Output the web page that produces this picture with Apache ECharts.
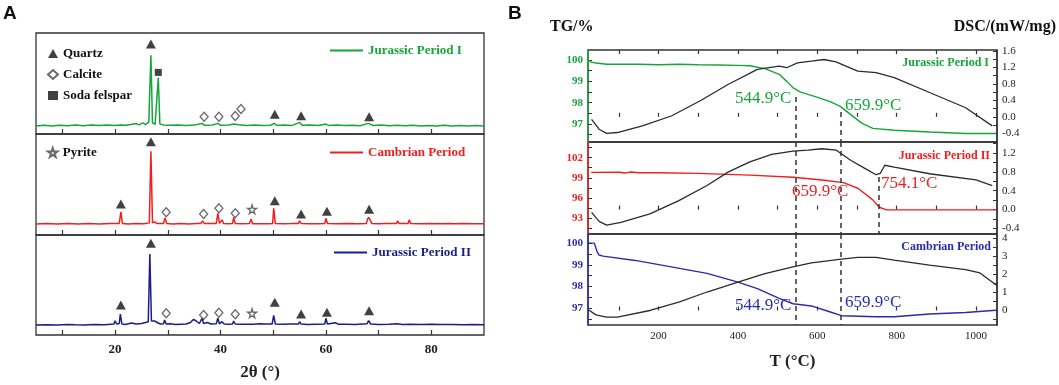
<!DOCTYPE html>
<html>
<head>
<meta charset="utf-8">
<script src="https://cdn.jsdelivr.net/npm/echarts@6/dist/echarts.min.js"></script>
<style>
  html, body { margin: 0; padding: 0; background: #fff; }
  #chart { width: 1059px; height: 385px; }
</style>
</head>
<body>
<div id="chart"></div>
<script>
// ---- panel A: XRD patterns, [2theta, relative intensity %] ----
const xrdJurassic1 = [[5,8],[6.5,8.6],[8,8],[9.5,8.7],[11,8.1],[12.5,8.8],[14,8.2],[15.5,8.9],[17,8.3],[18.5,9],[20,8.5],[21,9],[22,8.6],[23,9.5],[24,10.5],[24.5,9],[25.3,11],[25.8,9.2],[26.4,12],[26.8,78],[27.1,11],[27.6,9.5],[27.9,11],[28.2,56],[28.5,10],[29.2,9],[30.5,8.6],[32,9],[33.5,8.5],[35,8.8],[36.5,10.5],[37,8.6],[38.5,8.9],[39.5,10.5],[40,8.7],[41.5,8.9],[42.5,10],[43.5,9.2],[45,8.5],[46.5,9],[48,8.4],[49.5,8.7],[50.2,10.5],[50.7,8.5],[52,8.8],[53.5,8.3],[55,11.5],[55.5,8.6],[57,8.9],[58.5,8.4],[60,9.8],[60.5,8.5],[62,8.9],[63.5,8.3],[65,8.7],[66.5,8.2],[68,10.5],[68.5,9.5],[69,8.4],[70.5,8.8],[72,8.2],[73.5,8.7],[75,8.1],[76.5,8.6],[78,8],[79.5,8.5],[81,8],[82.5,8.6],[84,8],[85.5,8.5],[87,8],[88.5,8.4],[90,8]];
const xrdCambrian = [[5,11],[7,11.3],[9,11],[11,11.4],[13,11],[15,11.3],[17,11],[19,11.4],[20.8,11.5],[21.1,23],[21.4,11.3],[22.5,11],[24,11.5],[25.5,11.2],[26.5,12],[26.8,83],[27.1,12],[27.5,13],[27.9,11.5],[29.2,11.5],[29.5,17],[29.8,11.3],[31,11],[32.5,11.3],[34,11],[35.5,11.4],[36.3,11.5],[36.6,14],[36.9,11.5],[38,11.3],[39.2,11.5],[39.5,21.5],[39.8,11.5],[40.3,15],[40.6,11.4],[41.5,11.1],[42.3,11.5],[42.5,17.5],[42.8,11.4],[44,11.2],[45.5,11.3],[45.8,15.5],[46.1,11.2],[47.3,11.2],[47.6,13],[48.3,11.2],[48.6,13],[49.2,11.2],[49.9,11.5],[50.1,26.4],[50.4,11.4],[52,11.1],[53.5,11.3],[54.8,11.5],[55,14],[55.3,11.4],[57,11.2],[58.5,11.1],[59.8,11.5],[60,16.5],[60.3,11.4],[62,11.2],[64,11.4],[66,11.1],[67.7,11.5],[67.9,15.5],[68.1,17.5],[68.4,15],[68.7,11.5],[70,11.2],[71.5,11.4],[73.4,11.3],[73.6,14],[73.9,11.3],[75.6,11.3],[75.8,15],[76.1,11.3],[78,11.2],[79.8,11.3],[80.1,13],[80.4,11.2],[81.3,11.3],[81.5,13],[81.8,11.2],[83.7,11.3],[84,13],[84.3,11.2],[86,11.3],[88,11.1],[90,11.2]];
const xrdJurassic2 = [[5,10],[7,10.3],[9,10],[11,10.5],[12.5,10.2],[14,10],[16,10.4],[18,10.2],[19.8,11],[20,14.3],[20.3,11],[20.8,11.5],[21,21],[21.3,11],[22,10.5],[23.1,12],[24,11],[25,11.5],[25.8,12.5],[26.3,13.3],[26.6,81],[26.9,14],[27.5,14],[28,12.5],[28.6,11],[29.2,11.2],[29.4,15],[29.7,11],[30.5,11.2],[31.5,10.6],[32.5,10.8],[33.5,11],[34.3,12.5],[34.9,15.7],[35.4,14],[36,11.5],[36.5,16.7],[36.8,11.5],[37.5,12.5],[38.2,11],[39.2,11.2],[39.5,16.7],[39.8,11.2],[40.3,13.3],[40.7,11],[41.5,10.8],[42.3,11],[42.5,14],[42.8,11],[44,10.7],[45.6,10.8],[45.8,12.3],[46.1,10.7],[47.5,11.2],[48.5,11],[49.8,11],[50.1,19.7],[50.4,11],[51.8,10.7],[53,10.9],[54.8,11],[55,13.3],[55.3,10.9],[56.5,10.6],[58,10.8],[59.8,11],[60,16.7],[60.3,11],[61.8,12.3],[62.4,10.7],[64,10.8],[65.5,10.6],[67.8,11.2],[68.1,14.3],[68.5,11],[70,10.5],[72,10.7],[73.5,11.3],[74.5,10.5],[76,10.7],[78,10.4],[80,10.8],[82,10.4],[84,10.6],[86,10.3],[88,10.5],[90,10.3]];

// phase markers [2theta, height %]
const quartzA1 = [[26.8,89],[50.3,19.5],[55.3,18],[68.2,17]];
const calciteA1 = [[36.9,17],[39.7,17],[42.8,17.8],[43.9,24.8]];
const felsparA1 = [[28.2,61]];
const quartzA2 = [[21.1,30.7],[26.8,92.4],[50.3,34],[55.3,20.8],[60.2,23.4],[68.2,25.4]];
const calciteA2 = [[29.7,22.5],[36.8,20.8],[39.7,26.4],[42.8,21.5]];
const pyriteA2 = [[46,25.4]];
const quartzA3 = [[21.1,30],[26.8,91.7],[50.3,32.7],[55.3,21],[60.2,22.7],[68.2,24.3]];
const calciteA3 = [[29.7,21.7],[36.8,20],[39.7,22.3],[42.8,20.7]];
const pyriteA3 = [[46,21.7]];
const twoThetaLabels = [20, 40, 60, 80];

// ---- panel B: TG (%) and DSC (mW/mg) vs T (°C) ----
const tgJurassic1 = [[23,100],[30,99.9],[42,99.86],[69,99.8],[150,99.8],[200,99.78],[250,99.8],[300,99.78],[350,99.77],[400,99.75],[430,99.73],[468,99.6],[504,99.33],[523,99.0],[539,98.7],[558,98.5],[593,98.3],[631,98.06],[658,97.83],[685,97.43],[713,97.03],[740,96.8],[794,96.71],[884,96.63],[973,96.56],[1050,96.56]];
const dscJurassic1 = [[31,-0.06],[50,-0.3],[69,-0.4],[96,-0.38],[159,-0.22],[232,0.02],[305,0.39],[376,0.79],[449,1.15],[504,1.23],[523,1.19],[550,1.31],[585,1.35],[617,1.39],[647,1.33],[702,1.11],[748,1.07],[794,0.95],[883,0.59],[974,0.22],[1041,-0.22]];
const tgJurassic2 = [[30,99.8],[100,99.82],[115,99.7],[130,99.85],[150,99.75],[200,99.75],[300,99.65],[430,99.4],[539,99.07],[612,98.67],[666,98.27],[702,97.43],[740,95.7],[756,94.6],[775,94.2],[1050,94.2]];
const dscJurassic2 = [[31,-0.06],[50,-0.25],[69,-0.33],[105,-0.27],[178,-0.09],[251,0.19],[322,0.51],[376,0.8],[430,1.01],[485,1.17],[539,1.24],[576,1.26],[612,1.29],[648,1.26],[685,1.04],[721,0.87],[748,0.74],[759,0.77],[770,0.94],[794,0.9],[883,0.76],[1000,0.63],[1041,0.51]];
const tgCambrian = [[23,100],[38,100],[45,99.6],[50,99.45],[60,99.4],[141,99.2],[232,98.9],[322,98.6],[400,98.2],[449,97.9],[504,97.45],[539,97.2],[585,97.1],[631,96.83],[661,96.65],[748,96.6],[794,96.6],[883,96.73],[974,96.8],[1050,96.9]];
const dscCambrian = [[23,0.04],[42,-0.24],[69,-0.37],[96,-0.37],[178,0],[251,0.46],[322,1.02],[400,1.57],[468,2.04],[539,2.41],[585,2.63],[661,2.83],[702,2.93],[748,2.93],[794,2.78],[883,2.5],[974,2.26],[1010,2.07],[1052,1.39]];
const tempLabels = [200, 400, 600, 800, 1000];
const tempTicks = [100, 200, 300, 400, 500, 600, 700, 800, 900, 1000];

const serif = "'Liberation Serif', 'Times New Roman', serif";
const green = '#16a53a', red = '#f01e1e', navy = '#1c1c8c', blue = '#2a2ab0', dark = '#333';

const chart = echarts.init(document.getElementById('chart'));

function xA(grid, labels) {
  return {
    type: 'value', gridIndex: grid, min: 5, max: 90,
    axisLine: { show: false }, splitLine: { show: false },
    axisTick: { inside: true, length: 5, lineStyle: { color: dark, width: 1.2 }, customValues: [10, 20, 30, 40, 50, 60, 70, 80] },
    axisLabel: labels ? { customValues: twoThetaLabels, fontFamily: serif, fontWeight: 'bold', fontSize: 13, color: '#222', margin: 8 } : { show: false },
    name: labels ? '2θ (°)' : '', nameLocation: 'middle', nameGap: 29,
    nameTextStyle: { fontFamily: serif, fontWeight: 'bold', fontSize: 17, color: '#222' },
  };
}
function xB(grid, pos, labels) {
  return {
    type: 'value', gridIndex: grid, min: 22, max: 1053, position: pos,
    axisLine: { show: false }, splitLine: { show: false },
    axisTick: { inside: true, length: 4, lineStyle: { color: dark, width: 1.2 }, customValues: tempTicks },
    axisLabel: labels ? { customValues: tempLabels, fontFamily: serif, fontSize: 11, color: '#222', margin: 6, formatter: (v) => String(v) } : { show: false },
    name: labels ? 'T (°C)' : '', nameLocation: 'middle', nameGap: 28,
    nameTextStyle: { fontFamily: serif, fontWeight: 'bold', fontSize: 17, color: '#222' },
  };
}
function yA(grid) {
  return { type: 'value', gridIndex: grid, min: 0, max: 100, show: false };
}
function yB(grid, pos, min, max, color, labels, ticks, fmt) {
  return {
    type: 'value', gridIndex: grid, position: pos, min: min, max: max,
    splitLine: { show: false },
    axisLine: { show: true, lineStyle: { color: color, width: 1.5 } },
    axisTick: { inside: true, length: 4, lineStyle: { color: dark, width: 1 }, customValues: ticks },
    axisLabel: { customValues: labels, fontFamily: serif, fontSize: 11, fontWeight: pos === 'left' ? 'bold' : 'normal',
      color: pos === 'left' ? color : '#222', margin: 5, formatter: fmt },
  };
}
const one = (v) => v.toFixed(1);
const whole = (v) => String(Math.round(v));

function xrdLine(name, data, color, idx) {
  return { name: name, type: 'line', xAxisIndex: idx, yAxisIndex: idx, data: data, symbol: 'none',
    lineStyle: { color: color, width: 1.5 }, itemStyle: { color: color } };
}
function marker(name, data, idx, symbol, size, filled) {
  return { name: name, type: 'scatter', xAxisIndex: idx, yAxisIndex: idx, data: data, symbol: symbol, symbolSize: size,
    itemStyle: filled ? { color: '#111' } : { color: '#fff', borderColor: '#444', borderWidth: 1.3 }, z: 5 };
}
const star = 'path://M50,0 L61,35 L98,35 L68,57 L79,91 L50,70 L21,91 L32,57 L2,35 L39,35 Z';

function dashed(pairs) {
  return { symbol: 'none', silent: true, label: { show: false },
    lineStyle: { type: [5, 4], color: dark, width: 1.5 },
    data: pairs.map((p) => [{ coord: [p[0], p[1]] }, { coord: [p[0], p[2]] }]) };
}
function tgLine(name, data, color, xi, yi, marks) {
  return { name: name, type: 'line', xAxisIndex: xi, yAxisIndex: yi, data: data, symbol: 'none',
    lineStyle: { color: color, width: 1.4 }, itemStyle: { color: color }, markLine: marks ? dashed(marks) : undefined };
}
function dscLine(name, data, xi, yi) {
  return { name: name, type: 'line', xAxisIndex: xi, yAxisIndex: yi, data: data, symbol: 'none',
    lineStyle: { color: '#2b2b2b', width: 1.3 }, itemStyle: { color: '#2b2b2b' } };
}

const gridStyle = { show: true, borderColor: dark, borderWidth: 1.3, backgroundColor: 'transparent' };
const legendText = { fontFamily: serif, fontWeight: 'bold', fontSize: 13, color: '#111' };
const lineLegend = { icon: 'rect', itemWidth: 33, itemHeight: 2, itemGap: 2, textStyle: legendText, selectedMode: false };

const option = {
  animation: false,
  backgroundColor: '#fff',
  grid: [
    Object.assign({ left: 36, top: 33, width: 448, height: 101 }, gridStyle),
    Object.assign({ left: 36, top: 134, width: 448, height: 101 }, gridStyle),
    Object.assign({ left: 36, top: 235, width: 448, height: 100 }, gridStyle),
    Object.assign({ left: 588, top: 50, width: 409, height: 92 }, gridStyle),
    Object.assign({ left: 588, top: 142, width: 409, height: 92 }, gridStyle),
    Object.assign({ left: 588, top: 234, width: 409, height: 91 }, gridStyle),
  ],
  xAxis: [
    xA(0, false), xA(1, false), xA(2, true),
    xB(3, 'bottom', false), xB(3, 'top', false), xB(4, 'bottom', false), xB(5, 'bottom', true),
  ],
  yAxis: [
    yA(0), yA(1), yA(2),
    yB(3, 'left', 96.16, 100.47, green, [97, 98, 99, 100], [96.5, 97, 97.5, 98, 98.5, 99, 99.5, 100], whole),
    yB(3, 'right', -0.61, 1.62, dark, [-0.4, 0, 0.4, 0.8, 1.2, 1.6], [-0.6, -0.4, -0.2, 0, 0.2, 0.4, 0.6, 0.8, 1, 1.2, 1.4, 1.6], one),
    yB(4, 'left', 90.6, 104.34, red, [93, 96, 99, 102], [91.5, 93, 94.5, 96, 97.5, 99, 100.5, 102, 103.5], whole),
    yB(4, 'right', -0.517, 1.433, dark, [-0.4, 0, 0.4, 0.8, 1.2], [-0.4, -0.2, 0, 0.2, 0.4, 0.6, 0.8, 1, 1.2, 1.4], one),
    yB(5, 'left', 96.22, 100.42, blue, [97, 98, 99, 100], [96.5, 97, 97.5, 98, 98.5, 99, 99.5, 100], whole),
    yB(5, 'right', -0.8, 4.22, dark, [0, 1, 2, 3, 4], [-0.5, 0, 0.5, 1, 1.5, 2, 2.5, 3, 3.5, 4], whole),
  ],
  legend: [
    { data: ['Quartz', 'Calcite', 'Soda felspar'], orient: 'vertical', left: 42, top: 42, itemGap: 8,
      itemWidth: 10, itemHeight: 9, textStyle: legendText, selectedMode: false },
    { data: ['Pyrite'], orient: 'vertical', left: 42, top: 141, itemWidth: 10, itemHeight: 9,
      textStyle: legendText, selectedMode: false },
    Object.assign({ data: [{ name: 'Jurassic Period I', textStyle: { color: green } }], left: 325, top: 39 }, lineLegend),
    Object.assign({ data: [{ name: 'Cambrian Period', textStyle: { color: red } }], left: 325, top: 141 }, lineLegend),
    Object.assign({ data: [{ name: 'Jurassic Period II', textStyle: { color: navy } }], left: 329, top: 241 }, lineLegend),
  ],
  series: [
    xrdLine('Jurassic Period I', xrdJurassic1, green, 0),
    xrdLine('Cambrian Period', xrdCambrian, red, 1),
    xrdLine('Jurassic Period II', xrdJurassic2, navy, 2),
    marker('Quartz', quartzA1, 0, 'triangle', [10, 9], true),
    marker('Calcite', calciteA1, 0, 'diamond', [8, 9], false),
    marker('Soda felspar', felsparA1, 0, 'rect', 7, true),
    marker('Quartz', quartzA2, 1, 'triangle', [10, 9], true),
    marker('Calcite', calciteA2, 1, 'diamond', [8, 9], false),
    marker('Pyrite', pyriteA2, 1, star, 9, false),
    marker('Quartz', quartzA3, 2, 'triangle', [10, 9], true),
    marker('Calcite', calciteA3, 2, 'diamond', [8, 9], false),
    marker('Pyrite', pyriteA3, 2, star, 9, false),

    tgLine('TG Jurassic Period I', tgJurassic1, green, 3, 3, [[544.9, 98.27, 96.16], [659.9, 97.56, 96.16]]),
    dscLine('DSC Jurassic Period I', dscJurassic1, 3, 4),
    tgLine('TG Jurassic Period II', tgJurassic2, red, 5, 5, [[544.9, 104.34, 90.6], [659.9, 104.34, 90.6], [754.1, 99.12, 90.6]]),
    dscLine('DSC Jurassic Period II', dscJurassic2, 5, 6),
    tgLine('TG Cambrian Period', tgCambrian, blue, 6, 7, [[544.9, 100.42, 96.22], [659.9, 100.42, 96.22]]),
    dscLine('DSC Cambrian Period', dscCambrian, 6, 8),
  ],
  graphic: [
    { type: 'text', left: 3, top: 4, style: { text: 'A', font: "bold 19px 'Liberation Sans', Arial, sans-serif", fill: '#111' } },
    { type: 'text', left: 508, top: 4, style: { text: 'B', font: "bold 19px 'Liberation Sans', Arial, sans-serif", fill: '#111' } },
    { type: 'text', left: 550, top: 19, style: { text: 'TG/%', font: 'bold 16px ' + serif, fill: '#111' } },
    { type: 'text', right: 3, top: 19, style: { text: 'DSC/(mW/mg)', font: 'bold 16px ' + serif, fill: '#111' } },
    { type: 'text', right: 70, top: 57, style: { text: 'Jurassic Period I', font: 'bold 12px ' + serif, fill: green } },
    { type: 'text', right: 69, top: 150, style: { text: 'Jurassic Period II', font: 'bold 12px ' + serif, fill: red } },
    { type: 'text', right: 68, top: 241, style: { text: 'Cambrian Period', font: 'bold 12px ' + serif, fill: blue } },
    { type: 'text', left: 735, top: 90, style: { text: '544.9°C', font: '17px ' + serif, fill: green } },
    { type: 'text', left: 845, top: 97, style: { text: '659.9°C', font: '17px ' + serif, fill: green } },
    { type: 'text', left: 792, top: 183, style: { text: '659.9°C', font: '17px ' + serif, fill: red } },
    { type: 'text', left: 881, top: 175, style: { text: '754.1°C', font: '17px ' + serif, fill: red } },
    { type: 'text', left: 735, top: 297, style: { text: '544.9°C', font: '17px ' + serif, fill: blue } },
    { type: 'text', left: 845, top: 294, style: { text: '659.9°C', font: '17px ' + serif, fill: blue } },
  ],
};
chart.setOption(option);
</script>
</body>
</html>
